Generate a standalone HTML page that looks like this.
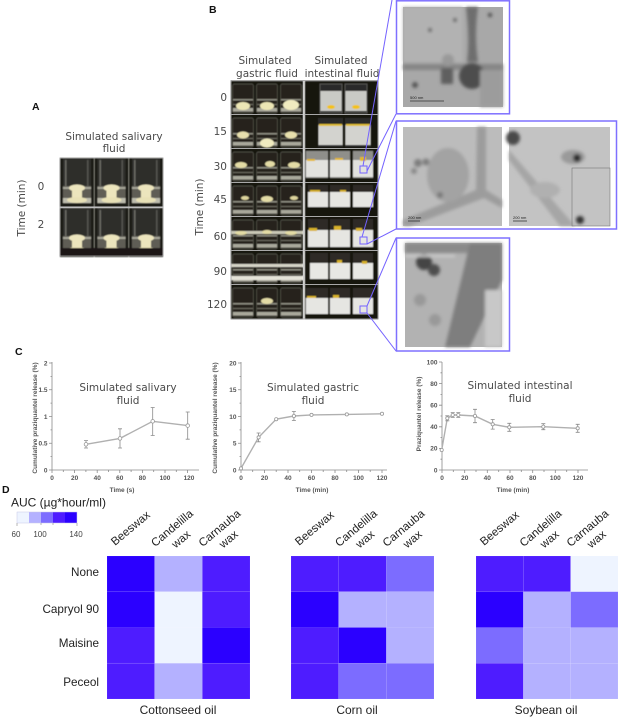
<!DOCTYPE html>
<html><head><meta charset="utf-8">
<style>
html,body{margin:0;padding:0;background:#fff;}
svg{display:block}
.dj{font-family:"DejaVu Sans","Liberation Sans",sans-serif;fill:#4a4a4a}
.ls{font-family:"Liberation Sans",Arial,sans-serif;fill:#222}
.tk{font-family:"Liberation Sans",Arial,sans-serif;font-weight:bold;font-size:6.5px;fill:#555}
.lb{font-family:"Liberation Sans",Arial,sans-serif;font-weight:bold;fill:#111}
</style></head><body>
<svg width="621" height="719" viewBox="0 0 621 719" xmlns="http://www.w3.org/2000/svg">
<defs>
 <filter id="bl"><feGaussianBlur stdDeviation="0.6"/></filter>
 <filter id="bl2"><feGaussianBlur stdDeviation="1.6"/></filter>
 <g id="gb">
  <rect x="0" y="0" width="24" height="34" fill="#15140f"/>
  <rect x="1.5" y="3" width="21" height="29" rx="2" fill="#25241e" stroke="#5a594f" stroke-width="0.7"/>
  <rect x="2" y="18" width="20" height="1.5" fill="#8d8c80"/>
  <rect x="2" y="23" width="20" height="1" fill="#6d6c62"/>
  <rect x="2" y="27" width="20" height="3.5" fill="#a9a89b"/>
 </g>
 <g id="sv">
  <rect x="0" y="0" width="34" height="49" fill="#1c1a15"/>
  <rect x="3" y="0" width="28" height="46" fill="#2f2e29"/>
  <rect x="5" y="2" width="1.5" height="40" fill="#6a6a64"/>
  <rect x="27" y="2" width="1.5" height="40" fill="#55554f"/>
  <rect x="3" y="28" width="28" height="16" fill="#5e5d54"/>
  <rect x="3" y="29" width="28" height="2" fill="#a5a598"/>
  <rect x="3" y="40" width="28" height="5" fill="#bdbcad"/>
  <ellipse cx="17" cy="30" rx="8" ry="3.5" fill="#ece5bd"/>
  <rect x="12" y="30" width="10" height="12" fill="#ece5bd"/>
  <ellipse cx="17" cy="42" rx="10" ry="3" fill="#e8e1b6"/>
 </g>
</defs>

<!-- Panel letters -->
<text x="32" y="110" class="lb" font-size="10.5">A</text>
<text x="209" y="13" class="lb" font-size="10.5">B</text>
<text x="15" y="355" class="lb" font-size="10.5">C</text>
<text x="2" y="493" class="lb" font-size="10.5">D</text>

<!-- A -->
<text class="dj" font-size="10.5" text-anchor="middle" x="114" y="140">Simulated salivary</text>
<text class="dj" font-size="10.5" text-anchor="middle" x="114" y="152">fluid</text>
<text class="dj" font-size="10.5" text-anchor="middle" transform="translate(25,208) rotate(-90)">Time (min)</text>
<text class="dj" font-size="10.5" text-anchor="middle" x="41" y="190">0</text>
<text class="dj" font-size="10.5" text-anchor="middle" x="41" y="228">2</text>
<g filter="url(#bl)">
 <use href="#sv" x="60" y="158"/><use href="#sv" x="94.5" y="158"/><use href="#sv" x="129" y="158"/>
 <g transform="translate(0,-11)">
 <use href="#sv" x="60" y="219"/><use href="#sv" x="94.5" y="219"/><use href="#sv" x="129" y="219"/>
 </g>
 <rect x="60" y="248" width="103" height="8" fill="#1a1813"/>
</g>
<rect x="60" y="206.5" width="103" height="1.5" fill="#bdbdbd"/>
<rect x="60" y="158" width="103" height="98" fill="none" stroke="#aaa" stroke-width="0.8"/>

<!-- B headings -->
<text class="dj" font-size="10.5" text-anchor="middle" x="265" y="64">Simulated</text>
<text class="dj" font-size="10.5" text-anchor="middle" x="267" y="77">gastric fluid</text>
<text class="dj" font-size="10.5" text-anchor="middle" x="341" y="64">Simulated</text>
<text class="dj" font-size="10.5" text-anchor="middle" x="342" y="77">intestinal fluid</text>
<text class="dj" font-size="10.5" text-anchor="middle" transform="translate(203,207) rotate(-90)">Time (min)</text>
<g class="dj" font-size="10.5" text-anchor="end">
 <text x="227" y="101">0</text><text x="227" y="135">15</text><text x="227" y="170">30</text>
 <text x="227" y="203">45</text><text x="227" y="240">60</text><text x="227" y="275">90</text>
 <text x="227" y="308">120</text>
</g>

<!-- gastric photos -->
<g filter="url(#bl)">
 <!-- row 0 -->
 <use href="#gb" x="231" y="81"/><use href="#gb" x="255" y="81"/><use href="#gb" x="279" y="81"/>
 <ellipse cx="243" cy="106" rx="7" ry="4" fill="#ece6b5"/><ellipse cx="267" cy="106" rx="7" ry="4" fill="#ece6b5"/><ellipse cx="291" cy="105" rx="8" ry="5" fill="#f0ebc0"/>
 <!-- row 15 -->
 <use href="#gb" x="231" y="115"/><use href="#gb" x="255" y="115"/><use href="#gb" x="279" y="115"/>
 <ellipse cx="243" cy="135" rx="6" ry="3.5" fill="#e8e0ad"/><ellipse cx="267" cy="143" rx="7" ry="4.5" fill="#f0ebc0"/><ellipse cx="291" cy="135" rx="6" ry="3.5" fill="#e8e0ad"/>
 <!-- row 30 -->
 <use href="#gb" x="231" y="149"/><use href="#gb" x="255" y="149"/><use href="#gb" x="279" y="149"/>
 <ellipse cx="241" cy="165" rx="6" ry="3" fill="#e3dba5"/><ellipse cx="270" cy="164" rx="5" ry="3" fill="#e3dba5"/><ellipse cx="294" cy="165" rx="6" ry="3" fill="#e3dba5"/>
 <!-- row 45 -->
 <use href="#gb" x="231" y="183"/><use href="#gb" x="255" y="183"/><use href="#gb" x="279" y="183"/>
 <ellipse cx="245" cy="198" rx="4" ry="2" fill="#ddd49c"/><ellipse cx="267" cy="199" rx="6" ry="3" fill="#e3dba5"/><ellipse cx="294" cy="198" rx="4" ry="2" fill="#ddd49c"/>
 <!-- row 60 -->
 <use href="#gb" x="231" y="217"/><use href="#gb" x="255" y="217"/><use href="#gb" x="279" y="217"/>
 <rect x="231" y="231" width="72" height="3" fill="#c9c8b6"/>
 <ellipse cx="241" cy="233" rx="6" ry="2" fill="#e3dba5"/><ellipse cx="267" cy="232" rx="5" ry="2" fill="#e3dba5"/><ellipse cx="291" cy="233" rx="6" ry="2" fill="#e3dba5"/>
 <!-- row 90 -->
 <use href="#gb" x="231" y="251"/><use href="#gb" x="255" y="251"/><use href="#gb" x="279" y="251"/>
 <rect x="231" y="264" width="72" height="3" fill="#d4d3c6"/><rect x="231" y="276" width="72" height="4" fill="#e4e3d8"/>
 <!-- row 120 -->
 <use href="#gb" x="231" y="285"/><use href="#gb" x="255" y="285"/><use href="#gb" x="279" y="285"/>
 <ellipse cx="267" cy="301" rx="6" ry="3" fill="#e3dba5"/>
</g>

<!-- intestinal photos -->
<g filter="url(#bl)">
 <rect x="305" y="81" width="73" height="238" fill="#16150f"/>
 <!-- row 0 -->
 <rect x="320" y="84" width="22" height="29" fill="#2c2c29" stroke="#6a6a66" stroke-width="0.7"/>
 <rect x="345" y="84" width="22" height="29" fill="#2c2c29" stroke="#6a6a66" stroke-width="0.7"/>
 <rect x="320.5" y="91" width="21" height="20" fill="#c9cac5"/><rect x="345.5" y="91" width="21" height="20" fill="#c9cac5"/>
 <ellipse cx="331" cy="107" rx="4" ry="2" fill="#f2c21c"/><ellipse cx="356" cy="107" rx="4" ry="2" fill="#f2c21c"/>
 <!-- row 15 -->
 <rect x="318" y="118" width="25" height="29" fill="#2c2c29"/><rect x="345" y="118" width="26" height="29" fill="#2c2c29"/>
 <rect x="318.5" y="125" width="24" height="20" fill="#d3d3cf"/><rect x="345.5" y="125" width="25" height="20" fill="#d3d3cf"/>
 <rect x="319" y="124" width="23" height="2" fill="#e0bd35"/><rect x="346" y="124" width="24" height="2" fill="#e0bd35"/>
 <!-- row 30 -->
 <rect x="306" y="151" width="22" height="27" fill="#8f8f8a"/><rect x="330" y="151" width="20" height="27" fill="#8f8f8a"/><rect x="353" y="151" width="20" height="27" fill="#8f8f8a"/>
 <rect x="306" y="160" width="22" height="17" fill="#e2e2de"/><rect x="330" y="160" width="20" height="17" fill="#e2e2de"/><rect x="353" y="160" width="20" height="17" fill="#e2e2de"/>
 <rect x="307" y="159" width="8" height="2" fill="#e5b825"/><rect x="335" y="158" width="8" height="2" fill="#e5b825"/><rect x="360" y="157" width="6" height="4" fill="#e5b825"/>
 <!-- row 45 -->
 <rect x="308" y="185" width="20" height="22" fill="#2e2c25"/><rect x="330" y="185" width="20" height="22" fill="#2e2c25"/><rect x="353" y="185" width="20" height="22" fill="#2e2c25"/>
 <rect x="308" y="192" width="20" height="15" fill="#e6e6e2"/><rect x="330" y="192" width="20" height="15" fill="#e6e6e2"/><rect x="353" y="192" width="20" height="15" fill="#e6e6e2"/>
 <rect x="310" y="190" width="10" height="2" fill="#d8b22a"/><rect x="340" y="190" width="6" height="2" fill="#d8b22a"/>
 <!-- row 60 -->
 <rect x="308" y="219" width="20" height="28" fill="#2e2c25"/><rect x="330" y="219" width="20" height="28" fill="#2e2c25"/><rect x="353" y="219" width="20" height="28" fill="#2e2c25"/>
 <rect x="308" y="230" width="20" height="17" fill="#e6e6e2"/><rect x="330" y="230" width="20" height="17" fill="#e6e6e2"/><rect x="353" y="230" width="20" height="17" fill="#e6e6e2"/>
 <rect x="309" y="228" width="8" height="3" fill="#d8b22a"/><rect x="334" y="226" width="7" height="4" fill="#d8b22a"/><rect x="356" y="228" width="6" height="3" fill="#d8b22a"/>
 <!-- row 90 -->
 <rect x="310" y="253" width="18" height="26" fill="#2e2c25"/><rect x="330" y="253" width="20" height="26" fill="#2e2c25"/><rect x="353" y="253" width="20" height="26" fill="#2e2c25"/>
 <rect x="310" y="263" width="18" height="16" fill="#e8e8e4"/><rect x="330" y="263" width="20" height="16" fill="#e8e8e4"/><rect x="353" y="263" width="20" height="16" fill="#e8e8e4"/>
 <rect x="337" y="260" width="5" height="3" fill="#d8b22a"/><rect x="362" y="261" width="5" height="3" fill="#d8b22a"/>
 <!-- row 120 -->
 <rect x="306" y="288" width="22" height="26" fill="#2e2c25"/><rect x="330" y="288" width="20" height="26" fill="#2e2c25"/><rect x="353" y="288" width="20" height="26" fill="#2e2c25"/>
 <rect x="306" y="298" width="22" height="16" fill="#e6e6e2"/><rect x="330" y="298" width="20" height="16" fill="#e6e6e2"/><rect x="353" y="298" width="20" height="16" fill="#e6e6e2"/>
 <rect x="307" y="296" width="9" height="2" fill="#d8b22a"/><rect x="333" y="295" width="6" height="3" fill="#d8b22a"/>
</g>
<!-- grid separators -->
<g fill="#a8a8a8">
 <rect x="231" y="114" width="147" height="1"/><rect x="231" y="148" width="147" height="1"/>
 <rect x="231" y="182" width="147" height="1"/><rect x="231" y="216" width="147" height="1"/>
 <rect x="231" y="250" width="147" height="1"/><rect x="231" y="284" width="147" height="1"/>
 <rect x="303" y="81" width="1.5" height="238" fill="#cfcfcf"/>
</g>
<rect x="231" y="80.5" width="147" height="238.5" fill="none" stroke="#9a9a9a" stroke-width="0.8"/>

<!-- zoom boxes & lines -->
<g stroke="#7462ff" stroke-width="1" fill="none">
 <rect x="360" y="166" width="7" height="7"/>
 <rect x="360" y="237" width="7" height="7"/>
 <rect x="360" y="306" width="7" height="7"/>
 <line x1="363" y1="166" x2="392" y2="0"/>
 <line x1="367" y1="171" x2="396" y2="114"/>
 <line x1="362" y1="237" x2="396" y2="121"/>
 <line x1="367" y1="244" x2="396" y2="229"/>
 <line x1="367" y1="306" x2="396" y2="238"/>
 <line x1="367" y1="313" x2="396" y2="351"/>
</g>

<!-- TEM panel 1 -->
<g>
 <rect x="403" y="7" width="100" height="100" fill="#a8a8a8"/>
 <g filter="url(#bl2)">
  <rect x="403" y="7" width="60" height="55" fill="#b2b2b2"/>
  <path d="M466 7 Q470 40 467 62 L478 62 Q474 35 478 7 Z" fill="#6e6e6e"/>
  <rect x="403" y="64" width="100" height="6" fill="#858585"/>
  <circle cx="472" cy="76" r="13" fill="#4e4e4e"/>
  <rect x="441" y="68" width="12" height="16" fill="#5e5e5e"/>
  <rect x="480" y="70" width="23" height="37" fill="#9c9c9c"/>
  <circle cx="448" cy="60" r="6" fill="#999"/>
  <circle cx="430" cy="30" r="2" fill="#555"/><circle cx="455" cy="20" r="2" fill="#555"/>
  <circle cx="415" cy="85" r="3" fill="#555"/><circle cx="490" cy="15" r="2" fill="#444"/>
 </g>
 <line x1="410" y1="101" x2="444" y2="101" stroke="#333" stroke-width="0.8"/>
 <text x="410" y="99" font-size="4" font-family="Liberation Sans" fill="#222">500 nm</text>
</g>
<rect x="396.5" y="0.8" width="113" height="113" fill="none" stroke="#7f70ff" stroke-width="1.5"/>

<!-- TEM panel 2 -->
<g>
 <rect x="403" y="127" width="99" height="99" fill="#bcbcbc"/>
 <g filter="url(#bl2)">
  <path d="M477 127 L486 127 L486 190 L502 200 L502 208 L484 198 L410 226 L403 226 L403 220 L476 190 Z" fill="#9c9c9c"/>
  <ellipse cx="448" cy="175" rx="21" ry="27" fill="#a3a3a3"/>
  <circle cx="418" cy="163" r="4" fill="#7e7e7e"/><circle cx="426" cy="162" r="3.5" fill="#7e7e7e"/>
  <circle cx="414" cy="171" r="3" fill="#888"/><circle cx="440" cy="195" r="3" fill="#777"/>
 </g>
 <line x1="408" y1="221" x2="420" y2="221" stroke="#333" stroke-width="0.8"/>
 <text x="408" y="219" font-size="4" font-family="Liberation Sans" fill="#222">200 nm</text>
 <rect x="509" y="127" width="101" height="99" fill="#c3c3c3"/>
 <g filter="url(#bl2)">
  <circle cx="513" cy="138" r="7" fill="#4a4a4a"/>
  <path d="M509 160 L560 226 L575 226 L509 150 Z" fill="#a6a6a6"/>
  <ellipse cx="573" cy="157" rx="12" ry="7" fill="#9a9a9a"/>
  <circle cx="577" cy="158" r="4" fill="#2a2a2a"/>
  <circle cx="580" cy="220" r="4" fill="#333"/>
  <ellipse cx="545" cy="190" rx="15" ry="8" fill="#b0b0b0"/>
 </g>
 <rect x="572" y="168" width="38" height="58" fill="none" stroke="#777" stroke-width="0.6"/>
 <line x1="513" y1="221" x2="527" y2="221" stroke="#333" stroke-width="0.8"/>
 <text x="513" y="219" font-size="4" font-family="Liberation Sans" fill="#222">200 nm</text>
</g>
<rect x="396.5" y="121" width="220" height="108" fill="none" stroke="#7f70ff" stroke-width="1.5"/>

<!-- TEM panel 3 -->
<g>
 <rect x="405" y="243" width="97" height="104" fill="#b2b2b2"/>
 <g filter="url(#bl2)">
  <rect x="405" y="243" width="97" height="10" fill="#8a8a8a"/>
  <path d="M470 243 L502 243 L502 280 L470 347 L445 347 Z" fill="#7e7e7e"/>
  <rect x="485" y="290" width="17" height="57" fill="#c8c8c8"/>
  <circle cx="424" cy="262" r="8" fill="#454545"/><circle cx="434" cy="270" r="6" fill="#4e4e4e"/>
  <circle cx="420" cy="300" r="6" fill="#999"/><circle cx="435" cy="320" r="6" fill="#999"/>
  <rect x="405" y="255" width="50" height="2" fill="#d0d0d0"/>
 </g>
</g>
<rect x="396.5" y="238" width="113" height="113" fill="none" stroke="#7f70ff" stroke-width="1.5"/>

<!-- C: chart 1 -->
<g stroke="#8a8a8a" stroke-width="0.8" fill="none">
 <line x1="52" y1="362" x2="52" y2="470"/><line x1="52" y1="470" x2="199" y2="470"/>
 <path d="M49 470H52M49 443.25H52M49 416.5H52M49 389.75H52M49 363H52M50.5 456.6H52M50.5 429.9H52M50.5 403.1H52M50.5 376.4H52"/>
 <path d="M52 470V473M74.6 470V473M97.2 470V473M119.8 470V473M142.4 470V473M165 470V473M187.6 470V473M63.3 470V472M85.9 470V472M108.5 470V472M131.1 470V472M153.7 470V472M176.3 470V472"/>
</g>
<g class="tk" text-anchor="end">
 <text x="47.5" y="472.3">0</text><text x="47.5" y="445.5">0.5</text><text x="47.5" y="418.8">1</text><text x="47.5" y="392">1.5</text><text x="47.5" y="365.3">2</text>
</g>
<g class="tk" text-anchor="middle">
 <text x="52" y="480">0</text><text x="74.6" y="480">20</text><text x="97.2" y="480">40</text><text x="119.8" y="480">60</text><text x="142.4" y="480">80</text><text x="165" y="480">100</text><text x="189" y="480">120</text>
</g>
<text class="tk" font-size="6.8" text-anchor="middle" x="122" y="492">Time (s)</text>
<text class="tk" font-size="6.2" text-anchor="middle" transform="translate(37,418) rotate(-90)">Cumulative praziquantel release (%)</text>
<text class="dj" font-size="10.5" text-anchor="middle" x="128" y="391">Simulated salivary</text>
<text class="dj" font-size="10.5" text-anchor="middle" x="128" y="404">fluid</text>
<polyline points="86,444.3 120,438.4 152.7,421.3 187.7,425.6" fill="none" stroke="#b0b0b0" stroke-width="1.4"/>
<g stroke="#8a8a8a" stroke-width="0.8" fill="none">
 <path d="M86 440.6V448M84 440.6H88M84 448H88"/>
 <path d="M120 428.8V448M118 428.8H122M118 448H122"/>
 <path d="M152.7 407.5V435.5M150.7 407.5H154.7M150.7 435.5H154.7"/>
 <path d="M187.7 412V439.2M185.7 412H189.7M185.7 439.2H189.7"/>
</g>
<g fill="#fff" stroke="#999" stroke-width="0.8">
 <circle cx="86" cy="444.3" r="1.8"/><circle cx="120" cy="438.4" r="1.8"/><circle cx="152.7" cy="421.3" r="1.8"/><circle cx="187.7" cy="425.6" r="1.8"/>
</g>

<!-- chart 2 -->
<g stroke="#8a8a8a" stroke-width="0.8" fill="none">
 <line x1="241" y1="362" x2="241" y2="470"/><line x1="241" y1="470" x2="387" y2="470"/>
 <path d="M238 470H241M238 443.25H241M238 416.5H241M238 389.75H241M238 363H241M239.5 456.6H241M239.5 429.9H241M239.5 403.1H241M239.5 376.4H241"/>
 <path d="M241 470V473M264.5 470V473M288 470V473M311.5 470V473M335 470V473M358.5 470V473M382 470V473M252.7 470V472M276.2 470V472M299.7 470V472M323.2 470V472M346.7 470V472M370.2 470V472"/>
</g>
<g class="tk" text-anchor="end">
 <text x="236.5" y="472.3">0</text><text x="236.5" y="445.5">5</text><text x="236.5" y="418.8">10</text><text x="236.5" y="392">15</text><text x="236.5" y="365.3">20</text>
</g>
<g class="tk" text-anchor="middle">
 <text x="241" y="480">0</text><text x="264.5" y="480">20</text><text x="288" y="480">40</text><text x="311.5" y="480">60</text><text x="335" y="480">80</text><text x="358.5" y="480">100</text><text x="382" y="480">120</text>
</g>
<text class="tk" font-size="6.8" text-anchor="middle" x="312" y="492">Time (min)</text>
<text class="tk" font-size="6.2" text-anchor="middle" transform="translate(217,418) rotate(-90)">Cumulative praziquantel release (%)</text>
<text class="dj" font-size="10.5" text-anchor="middle" x="313" y="391">Simulated gastric</text>
<text class="dj" font-size="10.5" text-anchor="middle" x="313" y="404">fluid</text>
<polyline points="241,468.4 258.6,437.4 276.2,419.2 293.9,416 311.5,414.9 346.8,414.4 382,413.8" fill="none" stroke="#b0b0b0" stroke-width="1.4"/>
<g stroke="#8a8a8a" stroke-width="0.8" fill="none">
 <path d="M258.6 433V441.8M256.6 433H260.6M256.6 441.8H260.6"/>
 <path d="M293.9 411.5V420.5M291.9 411.5H295.9M291.9 420.5H295.9"/>
</g>
<g fill="#fff" stroke="#999" stroke-width="0.8">
 <circle cx="241" cy="468.4" r="1.6"/><circle cx="258.6" cy="437.4" r="1.6"/><circle cx="276.2" cy="419.2" r="1.6"/><circle cx="293.9" cy="416" r="1.6"/><circle cx="311.5" cy="414.9" r="1.6"/><circle cx="346.8" cy="414.4" r="1.6"/><circle cx="382" cy="413.8" r="1.6"/>
</g>

<!-- chart 3 -->
<g stroke="#8a8a8a" stroke-width="0.8" fill="none">
 <line x1="442" y1="362" x2="442" y2="470"/><line x1="442" y1="470" x2="588" y2="470"/>
 <path d="M439 470H442M439 448.4H442M439 426.8H442M439 405.2H442M439 383.6H442M439 362H442M440.5 459.2H442M440.5 437.6H442M440.5 416H442M440.5 394.4H442M440.5 372.8H442"/>
 <path d="M442 470V473M464.7 470V473M487.3 470V473M510 470V473M532.7 470V473M555.3 470V473M578 470V473M453.3 470V472M476 470V472M498.7 470V472M521.3 470V472M544 470V472M566.7 470V472"/>
</g>
<g class="tk" text-anchor="end">
 <text x="437.5" y="472.3">0</text><text x="437.5" y="450.7">20</text><text x="437.5" y="429.1">40</text><text x="437.5" y="407.5">60</text><text x="437.5" y="385.9">80</text><text x="437.5" y="364.3">100</text>
</g>
<g class="tk" text-anchor="middle">
 <text x="442" y="480">0</text><text x="464.7" y="480">20</text><text x="487.3" y="480">40</text><text x="510" y="480">60</text><text x="532.7" y="480">80</text><text x="555.3" y="480">100</text><text x="578" y="480">120</text>
</g>
<text class="tk" font-size="6.8" text-anchor="middle" x="513" y="492">Time (min)</text>
<text class="tk" font-size="7.6" text-anchor="middle" transform="translate(421,414) rotate(-90)">Praziquantel release (%)</text>
<text class="dj" font-size="10.5" text-anchor="middle" x="520" y="389">Simulated intestinal</text>
<text class="dj" font-size="10.5" text-anchor="middle" x="520" y="402">fluid</text>
<polyline points="441.7,450 447.3,418.3 452.7,415 458.3,415 475,416 492.7,424.3 509.3,427.3 543.3,426.7 577.7,428.3" fill="none" stroke="#b0b0b0" stroke-width="1.4"/>
<g stroke="#8a8a8a" stroke-width="0.8" fill="none">
 <path d="M447.3 415.8V420.8M445.3 415.8H449.3M445.3 420.8H449.3"/>
 <path d="M452.7 412.6V417.4M450.7 412.6H454.7M450.7 417.4H454.7"/>
 <path d="M458.3 412.6V417.4M456.3 412.6H460.3M456.3 417.4H460.3"/>
 <path d="M475 409.3V422.7M473 409.3H477M473 422.7H477"/>
 <path d="M492.7 419.5V429.1M490.7 419.5H494.7M490.7 429.1H494.7"/>
 <path d="M509.3 423.3V431.3M507.3 423.3H511.3M507.3 431.3H511.3"/>
 <path d="M543.3 423.7V429.7M541.3 423.7H545.3M541.3 429.7H545.3"/>
 <path d="M577.7 424.3V432.3M575.7 424.3H579.7M575.7 432.3H579.7"/>
</g>
<g fill="#fff" stroke="#999" stroke-width="0.8">
 <circle cx="441.7" cy="450" r="1.6"/><circle cx="447.3" cy="418.3" r="1.6"/><circle cx="452.7" cy="415" r="1.6"/><circle cx="458.3" cy="415" r="1.6"/><circle cx="475" cy="416" r="1.6"/><circle cx="492.7" cy="424.3" r="1.6"/><circle cx="509.3" cy="427.3" r="1.6"/><circle cx="543.3" cy="426.7" r="1.6"/><circle cx="577.7" cy="428.3" r="1.6"/>
</g>

<!-- D legend -->
<text class="ls" font-size="12" x="11" y="506.5">AUC (µg*hour/ml)</text>
<rect x="17" y="512" width="12" height="11" fill="#eef4ff"/>
<rect x="29" y="512" width="12" height="11" fill="#b4b1ff"/>
<rect x="41" y="512" width="12" height="11" fill="#7c6cff"/>
<rect x="53" y="512" width="12" height="11" fill="#4e1cff"/>
<rect x="65" y="512" width="12" height="11" fill="#2b00ff"/>
<rect x="17" y="512" width="60" height="11" fill="none" stroke="#c8c8e8" stroke-width="0.5"/>
<path d="M17 523V526M41 523V525M53 523V525M77 523V526" stroke="#888" stroke-width="0.6"/>
<g class="ls" font-size="8" text-anchor="middle" fill="#444">
 <text x="16" y="537" fill="#444">60</text><text x="40" y="537" fill="#444">100</text><text x="76" y="537" fill="#444">140</text>
</g>

<!-- row labels -->
<g class="ls" font-size="11.7" text-anchor="end">
 <text x="99" y="576">None</text><text x="99" y="613">Capryol 90</text><text x="99" y="647">Maisine</text><text x="99" y="686">Peceol</text>
</g>

<!-- Heatmaps -->
<g stroke="rgba(255,255,255,0.12)" stroke-width="0.6">
 <!-- Cottonseed -->
 <rect x="107" y="556" width="47.67" height="35.75" fill="#2b00ff"/>
 <rect x="154.67" y="556" width="47.67" height="35.75" fill="#b4b1ff"/>
 <rect x="202.33" y="556" width="47.67" height="35.75" fill="#4e1cff"/>
 <rect x="107" y="591.75" width="47.67" height="35.75" fill="#2b00ff"/>
 <rect x="154.67" y="591.75" width="47.67" height="35.75" fill="#eef4ff"/>
 <rect x="202.33" y="591.75" width="47.67" height="35.75" fill="#4e1cff"/>
 <rect x="107" y="627.5" width="47.67" height="35.75" fill="#4e1cff"/>
 <rect x="154.67" y="627.5" width="47.67" height="35.75" fill="#eef4ff"/>
 <rect x="202.33" y="627.5" width="47.67" height="35.75" fill="#2b00ff"/>
 <rect x="107" y="663.25" width="47.67" height="35.75" fill="#4e1cff"/>
 <rect x="154.67" y="663.25" width="47.67" height="35.75" fill="#b4b1ff"/>
 <rect x="202.33" y="663.25" width="47.67" height="35.75" fill="#4e1cff"/>
 <!-- Corn -->
 <rect x="291" y="556" width="47.67" height="35.75" fill="#4e1cff"/>
 <rect x="338.67" y="556" width="47.67" height="35.75" fill="#4e1cff"/>
 <rect x="386.33" y="556" width="47.67" height="35.75" fill="#7c6cff"/>
 <rect x="291" y="591.75" width="47.67" height="35.75" fill="#2b00ff"/>
 <rect x="338.67" y="591.75" width="47.67" height="35.75" fill="#b4b1ff"/>
 <rect x="386.33" y="591.75" width="47.67" height="35.75" fill="#b4b1ff"/>
 <rect x="291" y="627.5" width="47.67" height="35.75" fill="#4e1cff"/>
 <rect x="338.67" y="627.5" width="47.67" height="35.75" fill="#2b00ff"/>
 <rect x="386.33" y="627.5" width="47.67" height="35.75" fill="#b4b1ff"/>
 <rect x="291" y="663.25" width="47.67" height="35.75" fill="#4e1cff"/>
 <rect x="338.67" y="663.25" width="47.67" height="35.75" fill="#7c6cff"/>
 <rect x="386.33" y="663.25" width="47.67" height="35.75" fill="#7c6cff"/>
 <!-- Soybean -->
 <rect x="476" y="556" width="47.33" height="35.75" fill="#4e1cff"/>
 <rect x="523.33" y="556" width="47.33" height="35.75" fill="#4e1cff"/>
 <rect x="570.67" y="556" width="47.33" height="35.75" fill="#eef4ff"/>
 <rect x="476" y="591.75" width="47.33" height="35.75" fill="#2b00ff"/>
 <rect x="523.33" y="591.75" width="47.33" height="35.75" fill="#b4b1ff"/>
 <rect x="570.67" y="591.75" width="47.33" height="35.75" fill="#7c6cff"/>
 <rect x="476" y="627.5" width="47.33" height="35.75" fill="#7c6cff"/>
 <rect x="523.33" y="627.5" width="47.33" height="35.75" fill="#b4b1ff"/>
 <rect x="570.67" y="627.5" width="47.33" height="35.75" fill="#b4b1ff"/>
 <rect x="476" y="663.25" width="47.33" height="35.75" fill="#4e1cff"/>
 <rect x="523.33" y="663.25" width="47.33" height="35.75" fill="#b4b1ff"/>
 <rect x="570.67" y="663.25" width="47.33" height="35.75" fill="#b4b1ff"/>
</g>

<!-- column labels -->
<g class="ls" font-size="11.5">
 <text transform="translate(115,546) rotate(-40)">Beeswax</text>
 <text text-anchor="middle" transform="translate(174.5,531) rotate(-40)">Candelilla</text>
 <text text-anchor="middle" transform="translate(183.5,542) rotate(-40)">wax</text>
 <text text-anchor="middle" transform="translate(222,531) rotate(-40)">Carnauba</text>
 <text text-anchor="middle" transform="translate(231,542) rotate(-40)">wax</text>

 <text transform="translate(299,546) rotate(-40)">Beeswax</text>
 <text text-anchor="middle" transform="translate(358.5,531) rotate(-40)">Candelilla</text>
 <text text-anchor="middle" transform="translate(367.5,542) rotate(-40)">wax</text>
 <text text-anchor="middle" transform="translate(406,531) rotate(-40)">Carnauba</text>
 <text text-anchor="middle" transform="translate(415,542) rotate(-40)">wax</text>

 <text transform="translate(484,546) rotate(-40)">Beeswax</text>
 <text text-anchor="middle" transform="translate(543,531) rotate(-40)">Candelilla</text>
 <text text-anchor="middle" transform="translate(552,542) rotate(-40)">wax</text>
 <text text-anchor="middle" transform="translate(590,531) rotate(-40)">Carnauba</text>
 <text text-anchor="middle" transform="translate(599,542) rotate(-40)">wax</text>
</g>

<!-- oil labels -->
<g class="ls" font-size="12" text-anchor="middle">
 <text x="178" y="714">Cottonseed oil</text>
 <text x="357" y="714">Corn oil</text>
 <text x="546" y="714">Soybean oil</text>
</g>
</svg>
</body></html>
